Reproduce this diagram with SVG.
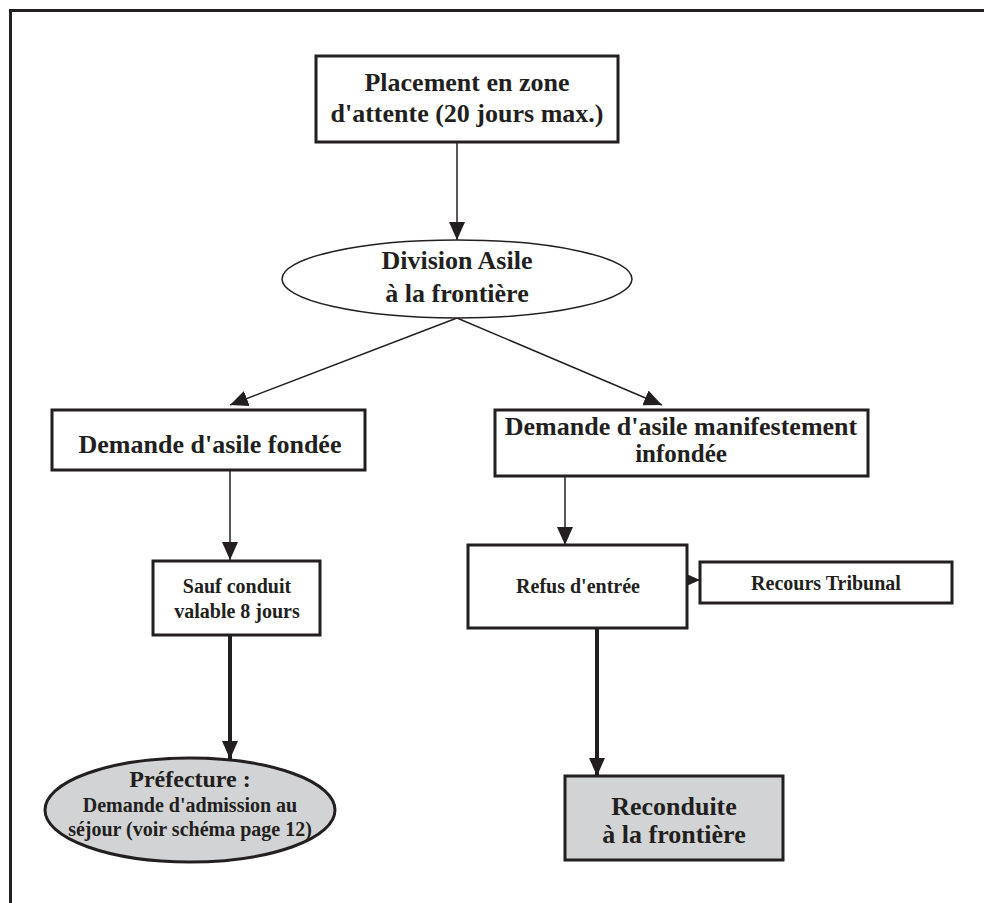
<svg xmlns="http://www.w3.org/2000/svg" width="984" height="903" viewBox="0 0 984 903">
<style>
.box{fill:#fff;stroke:#231f20;stroke-width:3}
.gray{fill:#d1d3d4;stroke:#231f20;stroke-width:3}
.ell{fill:#fff;stroke:#231f20;stroke-width:1.5}
text{font-family:'Liberation Serif','DejaVu Serif','Noto Serif','Times New Roman',Times,serif;fill:#231f20;text-anchor:middle}
.b26{font-size:26px;font-weight:bold}
.b25{font-size:25px;font-weight:bold}
.b24{font-size:24px;font-weight:bold}
.s20{font-size:20px;font-weight:bold}
.thin{stroke:#231f20;stroke-width:1.5;fill:none}
.thick{stroke:#231f20;stroke-width:4;fill:none}
</style>
<defs>
<marker id="ah" markerUnits="userSpaceOnUse" markerWidth="18" markerHeight="16" viewBox="0 0 18 16" refX="18" refY="8" orient="auto">
<path d="M0,0 L18,8 L0,16 Z" fill="#231f20"/>
</marker>
</defs>
<rect x="0" y="0" width="984" height="903" fill="#fff"/>
<path d="M10.5,903 V10.5 H984" fill="none" stroke="#231f20" stroke-width="3"/>

<g id="connectors">
<line class="thin" x1="457" y1="142" x2="457" y2="240" marker-end="url(#ah)"/>
<line class="thin" x1="457" y1="318" x2="230" y2="405" marker-end="url(#ah)"/>
<line class="thin" x1="457" y1="318" x2="662" y2="405" marker-end="url(#ah)"/>
<line class="thin" x1="230" y1="470" x2="230" y2="560" marker-end="url(#ah)"/>
<line class="thin" x1="565" y1="476" x2="565" y2="545" marker-end="url(#ah)"/>
<line class="thin" x1="687" y1="580" x2="700" y2="580" marker-end="url(#ah)"/>
<line class="thick" x1="230" y1="635" x2="230" y2="759" marker-end="url(#ah)"/>
<line class="thick" x1="597" y1="628" x2="597" y2="776" marker-end="url(#ah)"/>
</g>

<g id="placement">
<rect class="box" x="316" y="56" width="302" height="86"/>
<text class="b26" x="467" y="91">Placement en zone</text>
<text class="b26" x="467" y="122">d'attente (20 jours max.)</text>
</g>

<g id="division">
<ellipse class="ell" cx="457" cy="279" rx="175" ry="39"/>
<text class="b26" x="457" y="269">Division Asile</text>
<text class="b26" x="457" y="302">à la frontière</text>
</g>

<g id="fondee">
<rect class="box" x="52" y="410" width="313" height="60"/>
<text class="b26" x="210" y="453">Demande d'asile fondée</text>
</g>

<g id="infondee">
<rect class="box" x="495" y="410" width="373" height="66"/>
<text class="b26" x="681" y="435">Demande d'asile manifestement</text>
<text class="b25" x="681" y="462">infondée</text>
</g>

<g id="sauf">
<rect class="box" x="153" y="561" width="167" height="74"/>
<text class="s20" x="237" y="593">Sauf conduit</text>
<text class="s20" x="237" y="618">valable 8 jours</text>
</g>

<g id="refus">
<rect class="box" x="468" y="545" width="219" height="83"/>
<text class="s20" x="578" y="593">Refus d'entrée</text>
</g>

<g id="recours">
<rect class="box" x="700" y="562" width="252" height="41"/>
<text class="s20" x="826" y="590">Recours Tribunal</text>
</g>

<g id="prefecture">
<ellipse class="gray" cx="190" cy="810" rx="145" ry="52"/>
<text class="b24" x="190" y="787">Préfecture :</text>
<text class="s20" x="190" y="812">Demande d'admission au</text>
<text class="s20" x="190" y="836">séjour (voir schéma page 12)</text>
</g>

<g id="reconduite">
<rect class="gray" x="565" y="776" width="218" height="84"/>
<text class="b26" x="674" y="815">Reconduite</text>
<text class="b26" x="674" y="843">à la frontière</text>
</g>
</svg>
